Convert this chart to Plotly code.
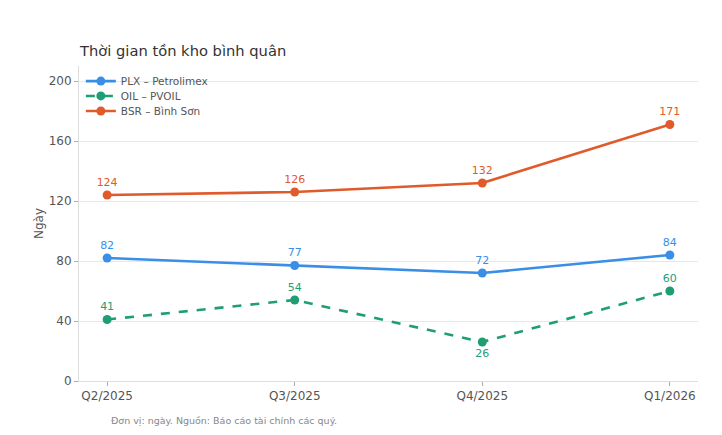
import plotly.graph_objects as go

quarters = ["Q2/2025", "Q3/2025", "Q4/2025", "Q1/2026"]
plx = [82, 77, 72, 84]
oil = [41, 54, 26, 60]
bsr = [124, 126, 132, 171]
series_names = ["PLX – Petrolimex", "OIL – PVOIL", "BSR – Bình Sơn"]
y_ticks = [0, 40, 80, 120, 160, 200]

colors = ["#3a8ee6", "#1f9e74", "#e05a2b"]
dashes = ["solid", "dash", "solid"]
label_pos = [
    ["top center"] * 4,
    ["top center", "top center", "bottom center", "top center"],
    ["top center"] * 4,
]
legend_ids = ["legend", "legend2", "legend3"]
legend_y = [0.952, 0.905, 0.857]
xs = list(range(len(quarters)))

fig = go.Figure()
for name, vals, c, d, lp, lg in zip(series_names, [plx, oil, bsr], colors, dashes, label_pos, legend_ids):
    fig.add_trace(go.Scatter(
        x=xs, y=vals, name=name, mode="lines+markers+text",
        line=dict(color=c, width=2.6, dash=d),
        marker=dict(color=c, size=9),
        text=[str(v) for v in vals], textposition=lp,
        textfont=dict(color=c, size=11, family="DejaVu Sans"),
        cliponaxis=False, legend=lg,
    ))

legend_common = dict(x=0.003, xanchor="left", yanchor="middle",
                     bgcolor="rgba(255,255,255,0)", font=dict(size=10.5, color="#555555"),
                     itemwidth=30)
layout_legends = {lg: dict(y=yy, **legend_common) for lg, yy in zip(legend_ids, legend_y)}

fig.update_layout(
    width=722, height=435,
    margin=dict(l=79, r=24, t=66, b=54),
    paper_bgcolor="white", plot_bgcolor="white",
    font=dict(family="DejaVu Sans", color="#555555", size=11),
    showlegend=True,
    xaxis=dict(range=[-0.15, 3.15], tickmode="array", tickvals=xs, ticktext=quarters,
               showgrid=False, zeroline=False, showline=True, linecolor="#dddddd", linewidth=1,
               ticks="outside", ticklen=4, tickcolor="#aaaaaa", tickfont=dict(size=12, color="#555555")),
    yaxis=dict(range=[0, 210], tickmode="array", tickvals=y_ticks,
               showgrid=True, gridcolor="#e8e8e8", gridwidth=1, zeroline=False,
               showline=True, linecolor="#dddddd", linewidth=1,
               ticks="outside", ticklen=4, tickcolor="#aaaaaa", tickfont=dict(size=12, color="#555555"),
               title=dict(text="Ngày", font=dict(size=12, color="#555555"), standoff=2)),
    **layout_legends,
)

fig.add_annotation(text="Thời gian tồn kho bình quân", xref="paper", yref="paper",
                   x=0, y=1, xanchor="left", yanchor="bottom", yshift=5, xshift=-2, showarrow=False,
                   font=dict(size=14.7, color="#333333", family="DejaVu Sans"))
fig.add_annotation(text="Đơn vị: ngày. Nguồn: Báo cáo tài chính các quý.", xref="paper", yref="paper",
                   x=0, y=0, xanchor="left", yanchor="top", xshift=30, yshift=-32, showarrow=False,
                   font=dict(size=9.5, color="#888888", family="DejaVu Sans"))
fig.add_shape(type="line", xref="paper", yref="paper", x0=-0.07, x1=1.02, y0=-0.205, y1=-0.205,
              line=dict(color="#eeeeee", width=1))

fig.write_html("out.html")
